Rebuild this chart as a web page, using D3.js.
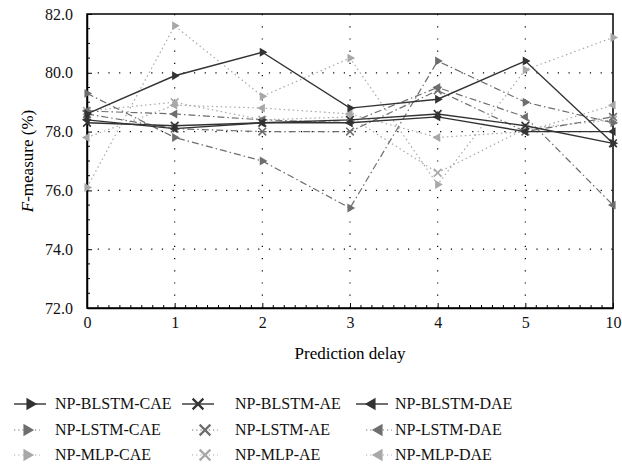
<!DOCTYPE html>
<html>
<head>
<meta charset="utf-8">
<script src="https://cdn.jsdelivr.net/npm/d3@7"></script>
<style>
  body { margin: 0; background: #fff; }
  svg text { font-family: "Liberation Serif", "DejaVu Serif", serif !important; }
</style>
</head>
<body>
<svg id="chart" width="622" height="474"></svg>
<script>
// prediction delay categories
const delays = ["0", "1", "2", "3", "4", "5", "10"]
const yTicks = [72, 74, 76, 78, 80, 82]

// F-measure (%) per model
const blstmCae = [78.6, 79.9, 80.7, 78.8, 79.1, 80.4, 77.6]
const blstmAe  = [78.3, 78.2, 78.3, 78.4, 78.6, 78.2, 77.6]
const blstmDae = [78.4, 78.1, 78.3, 78.3, 78.5, 78.0, 78.0]
const lstmCae  = [79.3, 77.8, 77.0, 75.4, 80.4, 79.0, 78.3]
const lstmAe   = [78.6, 78.1, 78.0, 78.0, 79.4, 78.0, 78.5]
const lstmDae  = [78.7, 78.6, 78.4, 78.3, 79.5, 78.5, 75.5]
const mlpCae   = [76.1, 81.6, 79.2, 80.5, 76.2, 80.1, 81.2]
const mlpAe    = [78.7, 79.0, 78.4, 78.5, 76.6, 78.1, 78.4]
const mlpDae   = [77.8, 78.9, 78.8, 78.6, 77.8, 78.0, 78.9]

const series = [
  { name: "NP-BLSTM-CAE", values: blstmCae, group: "blstm", mark: "right" },
  { name: "NP-BLSTM-AE",  values: blstmAe,  group: "blstm", mark: "x" },
  { name: "NP-BLSTM-DAE", values: blstmDae, group: "blstm", mark: "left" },
  { name: "NP-LSTM-CAE",  values: lstmCae,  group: "lstm",  mark: "right" },
  { name: "NP-LSTM-AE",   values: lstmAe,   group: "lstm",  mark: "x" },
  { name: "NP-LSTM-DAE",  values: lstmDae,  group: "lstm",  mark: "left" },
  { name: "NP-MLP-CAE",   values: mlpCae,   group: "mlp",   mark: "right" },
  { name: "NP-MLP-AE",    values: mlpAe,    group: "mlp",   mark: "x" },
  { name: "NP-MLP-DAE",   values: mlpDae,   group: "mlp",   mark: "left" }
]

const styles = {
  blstm: { color: "#333", dash: null, width: 1.4 },
  lstm:  { color: "#6e6e6e", dash: "7,3,1.5,3", width: 1.2 },
  mlp:   { color: "#a8a8a8", dash: "1.5,3", width: 1.2 }
}

const svg = d3.select("#chart")
const margin = { top: 14, right: 9, bottom: 166, left: 87 }
const width = 622, height = 474

const x = d3.scalePoint()
  .domain(delays)
  .range([margin.left, width - margin.right])

const y = d3.scaleLinear()
  .domain([72, 82])
  .range([height - margin.bottom, margin.top])

// grid
const grid = svg.append("g")
grid.selectAll("line.gy")
  .data(yTicks.slice(1, -1))
  .join("line")
  .attr("x1", margin.left).attr("x2", width - margin.right)
  .attr("y1", d => y(d)).attr("y2", d => y(d))
  .attr("stroke", "#000").attr("stroke-width", 1.2)
  .attr("stroke-dasharray", "1.2,9.5")
grid.selectAll("line.gx")
  .data(delays.slice(1, -1))
  .join("line")
  .attr("x1", d => x(d)).attr("x2", d => x(d))
  .attr("y1", margin.top).attr("y2", height - margin.bottom)
  .attr("stroke", "#000").attr("stroke-width", 1.2)
  .attr("stroke-dasharray", "1.2,11")

// minor ticks
const step = x.step()
const minorX = []
delays.slice(0, -1).forEach(d => {
  for (let i = 1; i < 8; i++) minorX.push(x(d) + step * i / 8)
})
svg.append("g").selectAll("line")
  .data(minorX)
  .join("line")
  .attr("x1", d => d).attr("x2", d => d)
  .attr("y1", height - margin.bottom).attr("y2", height - margin.bottom - 3)
  .attr("stroke", "#000")
const minorY = d3.range(72.5, 82, 0.5).filter(v => v % 2 !== 0)
svg.append("g").selectAll("line")
  .data(minorY)
  .join("line")
  .attr("x1", margin.left).attr("x2", margin.left + 3)
  .attr("y1", d => y(d)).attr("y2", d => y(d))
  .attr("stroke", "#000")

// axes
const xAxis = svg.append("g")
  .attr("transform", `translate(0,${height - margin.bottom})`)
  .call(d3.axisBottom(x).tickSizeInner(-5).tickSizeOuter(0).tickPadding(9))
const yAxis = svg.append("g")
  .attr("transform", `translate(${margin.left},0)`)
  .call(d3.axisLeft(y).tickValues(yTicks).tickFormat(d3.format(".1f")).tickSizeInner(-5).tickSizeOuter(0).tickPadding(14))
;[xAxis, yAxis].forEach(a => {
  a.selectAll("text").attr("fill", "#111").style("font-size", "16px")
  a.select(".domain").attr("stroke-width", 1.5)
})

// box top / right
svg.append("rect")
  .attr("x", margin.left).attr("y", margin.top)
  .attr("width", width - margin.right - margin.left)
  .attr("height", height - margin.bottom - margin.top)
  .attr("fill", "none").attr("stroke", "#000").attr("stroke-width", 1.5)

const line = d3.line()
  .x((d, i) => x(delays[i]))
  .y(d => y(d))

function marker(sel, mark, color) {
  if (mark === "x") {
    sel.attr("d", d3.symbol(d3.symbolX, 40)())
      .attr("fill", "none").attr("stroke", color).attr("stroke-width", 1.6)
  } else {
    sel.attr("d", d3.symbol(d3.symbolTriangle, 34)())
      .attr("fill", color).attr("stroke", "none")
  }
}

// draw MLP first so BLSTM ends up on top
const drawOrder = [...series].reverse()
drawOrder.forEach(s => {
  const st = styles[s.group]
  const g = svg.append("g")
  g.append("path")
    .datum(s.values)
    .attr("fill", "none")
    .attr("stroke", st.color)
    .attr("stroke-width", st.width)
    .attr("stroke-dasharray", st.dash)
    .attr("d", line)
  g.selectAll("path.m")
    .data(s.values)
    .join("path")
    .attr("class", "m")
    .call(marker, s.mark, st.color)
    .attr("transform", (d, i) => `translate(${x(delays[i])},${y(d)}) rotate(${s.mark === "right" ? 90 : s.mark === "left" ? -90 : 0})`)
})

// axis titles
svg.append("text")
  .attr("x", (margin.left + width - margin.right) / 2)
  .attr("y", 359)
  .attr("text-anchor", "middle")
  .style("font-size", "17px")
  .text("Prediction delay")

const yl = svg.append("text")
  .attr("transform", `translate(33,${(margin.top + height - margin.bottom) / 2}) rotate(-90)`)
  .attr("text-anchor", "middle")
  .style("font-size", "17px")
yl.append("tspan").style("font-style", "italic").text("F")
yl.append("tspan").text("-measure (%)")

// legend
const colX = [14, 182, 356]
const textX = [55, 235, 395]
const rowY = [404, 430, 455]
series.forEach((s, i) => {
  const col = i % 3, row = Math.floor(i / 3)
  const st = styles[s.group]
  const g = svg.append("g")
  const x0 = colX[col] + (row > 0 && col === 1 ? 10 : 0) + (row > 0 && col === 2 ? 10 : 0)
  const len = row > 0 ? 26 : 32
  g.append("line")
    .attr("x1", x0).attr("x2", x0 + len)
    .attr("y1", rowY[row]).attr("y2", rowY[row])
    .attr("stroke", st.color).attr("stroke-width", st.width)
    .attr("stroke-dasharray", row === 0 ? null : "1.2,3")
  g.append("path")
    .call(marker, s.mark, st.color)
    .attr("transform", `translate(${x0 + len / 2},${rowY[row]}) rotate(${s.mark === "right" ? 90 : s.mark === "left" ? -90 : 0}) scale(1.4)`)
  g.append("text")
    .attr("x", textX[col]).attr("y", rowY[row] + 5)
    .style("font-size", "16px")
    .attr("fill", "#111")
    .text(s.name)
})
</script>
</body>
</html>
